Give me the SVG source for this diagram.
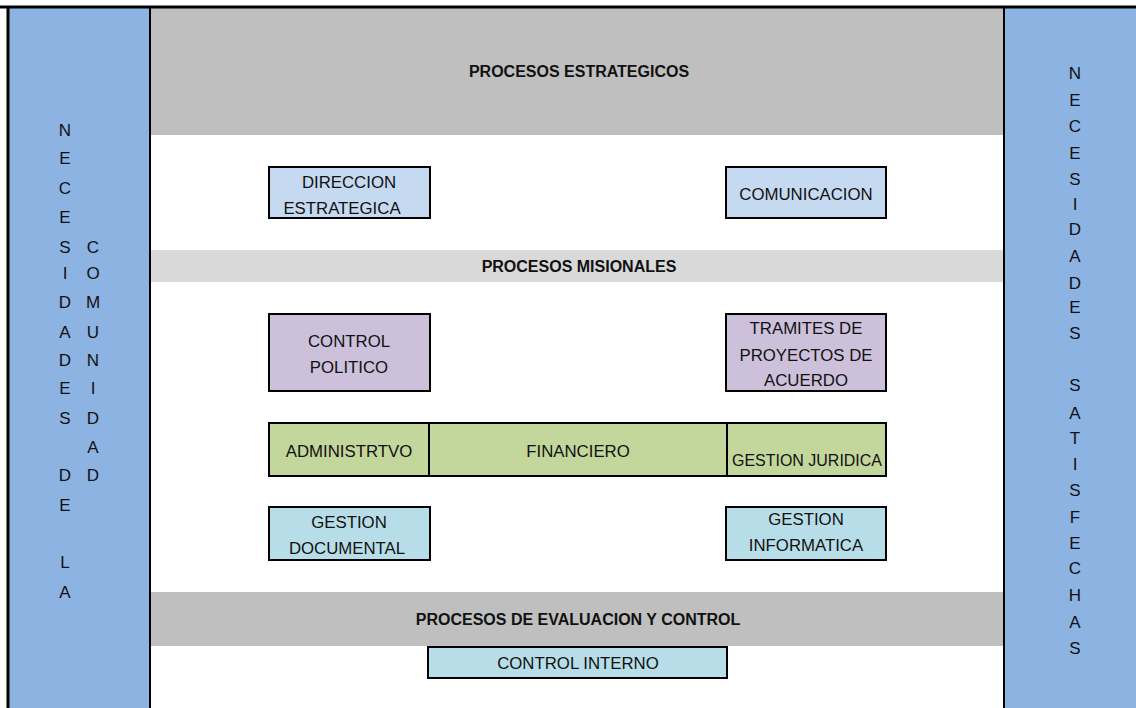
<svg xmlns="http://www.w3.org/2000/svg" width="1136" height="708" viewBox="0 0 1136 708">
<style>
text{font-family:"Liberation Sans",Arial,sans-serif;fill:#111;}
.hd{font-size:16px;font-weight:bold;text-anchor:middle;}
.bx{font-size:16.8px;text-anchor:middle;}
.lt{font-size:17px;text-anchor:middle;}
.box{stroke:#000;stroke-width:2;}
</style>
<rect x="0" y="0" width="1136" height="708" fill="#fff"/>
<g id="left-column">
<rect x="8" y="8" width="142" height="700" fill="#8db3e2"/>
<text class="lt" x="65" y="136">N</text>
<text class="lt" x="65" y="164">E</text>
<text class="lt" x="65" y="194">C</text>
<text class="lt" x="65" y="223">E</text>
<text class="lt" x="65" y="253">S</text>
<text class="lt" x="65" y="279">I</text>
<text class="lt" x="65" y="308">D</text>
<text class="lt" x="65" y="338">A</text>
<text class="lt" x="65" y="366">D</text>
<text class="lt" x="65" y="394">E</text>
<text class="lt" x="65" y="424">S</text>
<text class="lt" x="65" y="481">D</text>
<text class="lt" x="65" y="511">E</text>
<text class="lt" x="65" y="568">L</text>
<text class="lt" x="65" y="598">A</text>
<text class="lt" x="93" y="253">C</text>
<text class="lt" x="93" y="279">O</text>
<text class="lt" x="93" y="308">M</text>
<text class="lt" x="93" y="338">U</text>
<text class="lt" x="93" y="366">N</text>
<text class="lt" x="93" y="394">I</text>
<text class="lt" x="93" y="424">D</text>
<text class="lt" x="93" y="453">A</text>
<text class="lt" x="93" y="481">D</text>
</g>
<g id="right-column">
<rect x="1004" y="8" width="132" height="700" fill="#8db3e2"/>
<text class="lt" x="1075" y="79">N</text>
<text class="lt" x="1075" y="106">E</text>
<text class="lt" x="1075" y="132">C</text>
<text class="lt" x="1075" y="159">E</text>
<text class="lt" x="1075" y="185">S</text>
<text class="lt" x="1075" y="210">I</text>
<text class="lt" x="1075" y="235">D</text>
<text class="lt" x="1075" y="262">A</text>
<text class="lt" x="1075" y="289">D</text>
<text class="lt" x="1075" y="313">E</text>
<text class="lt" x="1075" y="339">S</text>
<text class="lt" x="1075" y="391">S</text>
<text class="lt" x="1075" y="419">A</text>
<text class="lt" x="1075" y="444">T</text>
<text class="lt" x="1075" y="470">I</text>
<text class="lt" x="1075" y="496">S</text>
<text class="lt" x="1075" y="523">F</text>
<text class="lt" x="1075" y="549">E</text>
<text class="lt" x="1075" y="574">C</text>
<text class="lt" x="1075" y="601">H</text>
<text class="lt" x="1075" y="628">A</text>
<text class="lt" x="1075" y="654">S</text>
</g>
<g id="band-estrategicos">
<rect x="150" y="8" width="854" height="127" fill="#bfbfbf"/>
<text class="hd" x="579" y="77">PROCESOS ESTRATEGICOS</text>
</g>
<g id="band-misionales">
<rect x="150" y="250" width="854" height="32" fill="#d9d9d9"/>
<text class="hd" x="579" y="272">PROCESOS MISIONALES</text>
</g>
<g id="band-evaluacion">
<rect x="150" y="592" width="854" height="54" fill="#bfbfbf"/>
<text class="hd" x="578" y="625">PROCESOS DE EVALUACION Y CONTROL</text>
</g>
<g id="frame" stroke="#000" fill="none">
<line x1="0" y1="7" x2="1136" y2="7" stroke-width="3"/>
<line x1="8" y1="6" x2="8" y2="708" stroke-width="3"/>
<line x1="150" y1="7" x2="150" y2="708" stroke-width="2"/>
<line x1="1004" y1="7" x2="1004" y2="708" stroke-width="2"/>
</g>
<g id="direccion-estrategica">
<rect class="box" x="269" y="167" width="161" height="51" fill="#c5d9f1"/>
<text class="bx" x="349" y="188">DIRECCION</text>
<text class="bx" x="342" y="214">ESTRATEGICA</text>
</g>
<g id="comunicacion">
<rect class="box" x="726" y="167" width="160" height="51" fill="#c5d9f1"/>
<text class="bx" x="806" y="200">COMUNICACION</text>
</g>
<g id="control-politico">
<rect class="box" x="269" y="314" width="161" height="77" fill="#ccc0da"/>
<text class="bx" x="349" y="347">CONTROL</text>
<text class="bx" x="349" y="373">POLITICO</text>
</g>
<g id="tramites">
<rect class="box" x="726" y="314" width="160" height="77" fill="#ccc0da"/>
<text class="bx" x="806" y="334">TRAMITES DE</text>
<text class="bx" x="806" y="361">PROYECTOS DE</text>
<text class="bx" x="806" y="386">ACUERDO</text>
</g>
<g id="administrativo">
<rect class="box" x="269" y="423" width="160" height="53" fill="#c3d69b"/>
<text class="bx" x="349" y="457">ADMINISTRTVO</text>
</g>
<g id="financiero">
<rect class="box" x="429" y="423" width="298" height="53" fill="#c3d69b"/>
<text class="bx" x="578" y="457">FINANCIERO</text>
</g>
<g id="gestion-juridica">
<rect class="box" x="727" y="423" width="159" height="53" fill="#c3d69b"/>
<text class="bx" x="807" y="466" textLength="150" lengthAdjust="spacingAndGlyphs">GESTION JURIDICA</text>
</g>
<g id="gestion-documental">
<rect class="box" x="269" y="507" width="161" height="53" fill="#b7dee8"/>
<text class="bx" x="349" y="528">GESTION</text>
<text class="bx" x="347" y="554">DOCUMENTAL</text>
</g>
<g id="gestion-informatica">
<rect class="box" x="726" y="507" width="160" height="53" fill="#b7dee8"/>
<text class="bx" x="806" y="525">GESTION</text>
<text class="bx" x="806" y="551">INFORMATICA</text>
</g>
<g id="control-interno">
<rect class="box" x="428" y="647" width="299" height="31" fill="#b7dee8"/>
<text class="bx" x="578" y="669">CONTROL INTERNO</text>
</g>
<g id="connectors"></g>
</svg>
